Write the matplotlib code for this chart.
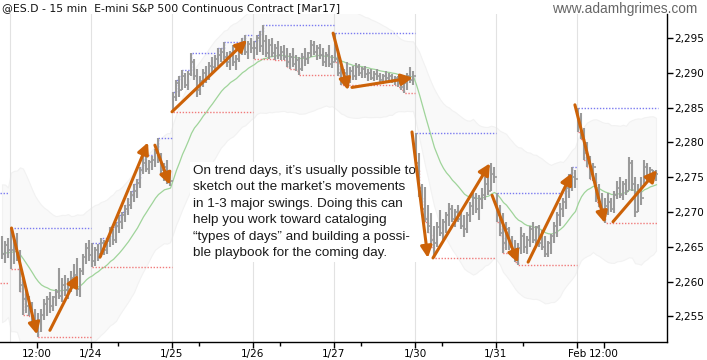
import numpy as np
import pandas as pd
import matplotlib
matplotlib.use("Agg")
import matplotlib.pyplot as plt
from matplotlib.ticker import FuncFormatter, FixedLocator

BAR = "#9a9a9a"; ARROW = "#cc6208"; MA = "#9fd49a"; HI = "#7b7bf0"; LO = "#f07b7b"; GRID = "#e2e2e2"

# sessions (27 fifteen-minute bars each), starting 1/23
day_labels = ["1/23", "1/24", "1/25", "1/26", "1/27", "1/30", "1/31", "Feb"]
BARS = 27

# tail of the 1/20 session
pre_high = [2266.5, 2265.8, 2266.2]
pre_low = [2263.2, 2262.6, 2263.4]
pre_close = [2264.0, 2265.2, 2264.6]
prev_sess_high = 2272.7
prev_sess_low = 2259.8

highs = [
    # 1/23
    [2267.7, 2266.5, 2267.0, 2264.5, 2260.5, 2259.0, 2258.0, 2257.0, 2256.0, 2255.5, 2256.0, 2257.5, 2258.0, 2258.5,
     2258.0, 2259.0, 2262.0, 2260.5, 2261.0, 2260.5, 2261.5, 2262.5, 2263.4, 2262.0, 2264.0, 2265.5, 2266.0],
    # 1/24
    [2265.5, 2265.0, 2265.4, 2266.3, 2266.0, 2266.2, 2267.8, 2267.5, 2268.5, 2269.5, 2270.0, 2271.0, 2272.0, 2273.0,
     2274.0, 2274.8, 2276.5, 2278.0, 2278.2, 2277.5, 2278.0, 2279.0, 2280.6, 2278.5, 2277.0, 2277.5, 2276.0],
    # 1/25
    [2287.2, 2289.0, 2289.5, 2290.4, 2290.0, 2290.2, 2292.8, 2292.0, 2290.5, 2289.5, 2290.5, 2291.0, 2291.5, 2292.2,
     2292.5, 2293.5, 2293.5, 2294.4, 2293.0, 2293.2, 2294.0, 2292.5, 2294.0, 2295.0, 2295.4, 2294.5, 2295.0],
    # 1/26
    [2294.5, 2295.5, 2296.0, 2296.9, 2295.5, 2294.8, 2295.0, 2294.2, 2294.5, 2293.8, 2294.0, 2293.5, 2292.8, 2293.5,
     2292.5, 2292.2, 2292.8, 2293.6, 2293.0, 2294.7, 2294.5, 2294.0, 2294.2, 2293.6, 2293.0, 2294.0, 2292.5],
    # 1/27
    [2295.7, 2293.0, 2291.0, 2290.5, 2291.5, 2290.8, 2291.0, 2291.4, 2291.2, 2290.8, 2291.0, 2290.5, 2290.6, 2290.2,
     2290.5, 2290.0, 2289.8, 2290.2, 2290.0, 2289.8, 2289.6, 2289.5, 2289.0, 2288.8, 2290.0, 2290.8, 2290.2],
    # 1/30
    [2281.3, 2278.5, 2274.0, 2273.6, 2271.0, 2269.9, 2268.0, 2268.5, 2270.3, 2269.0, 2270.0, 2271.3, 2271.0, 2270.5,
     2271.0, 2270.3, 2269.5, 2270.0, 2271.5, 2273.2, 2272.8, 2272.5, 2273.5, 2275.0, 2276.0, 2277.0, 2276.5],
    # 1/31
    [2272.7, 2271.0, 2269.9, 2268.5, 2267.8, 2266.5, 2266.0, 2265.5, 2267.8, 2267.0, 2266.5, 2268.0, 2268.6, 2268.0,
     2268.2, 2267.4, 2266.5, 2265.8, 2266.8, 2268.5, 2270.0, 2271.3, 2272.0, 2274.0, 2275.5, 2276.5, 2276.0],
    # 2/1
    [2285.0, 2284.2, 2282.0, 2280.0, 2278.0, 2277.0, 2275.6, 2274.0, 2272.7, 2272.0, 2272.7, 2272.0, 2273.0, 2274.5,
     2275.0, 2274.5, 2274.8, 2277.9, 2277.5, 2275.0, 2274.0, 2275.0, 2277.5, 2277.0, 2276.5, 2276.0, 2276.0],
]
lows = [
    [2261.8, 2262.5, 2263.0, 2258.5, 2255.2, 2255.5, 2255.0, 2254.2, 2253.0, 2252.0, 2252.8, 2254.5, 2255.0, 2255.5,
     2255.8, 2256.5, 2257.5, 2257.0, 2258.0, 2257.5, 2258.5, 2259.5, 2258.0, 2257.8, 2261.0, 2262.5, 2263.0],
    [2262.1, 2262.3, 2263.0, 2263.5, 2263.8, 2264.0, 2265.0, 2265.2, 2265.5, 2267.0, 2267.5, 2268.5, 2269.5, 2270.5,
     2271.5, 2272.0, 2273.5, 2275.5, 2275.8, 2275.5, 2276.0, 2276.5, 2277.0, 2275.5, 2274.5, 2274.0, 2273.8],
    [2284.4, 2286.0, 2286.5, 2287.5, 2287.8, 2287.5, 2289.5, 2289.0, 2286.5, 2286.8, 2288.0, 2288.5, 2289.0, 2290.0,
     2290.2, 2291.0, 2291.5, 2291.8, 2290.8, 2290.4, 2291.0, 2290.4, 2291.5, 2292.5, 2292.5, 2292.0, 2292.8],
    [2292.0, 2292.5, 2293.0, 2292.5, 2292.3, 2292.0, 2292.2, 2291.8, 2292.0, 2291.9, 2291.8, 2290.8, 2290.5, 2290.8,
     2290.2, 2289.7, 2290.2, 2291.0, 2291.2, 2292.2, 2292.5, 2291.8, 2292.0, 2291.0, 2290.8, 2290.8, 2290.7],
    [2291.5, 2289.5, 2288.3, 2288.3, 2288.5, 2288.5, 2289.0, 2289.0, 2289.5, 2289.2, 2289.3, 2288.8, 2289.0, 2288.8,
     2289.0, 2288.5, 2288.4, 2288.8, 2288.5, 2288.6, 2288.2, 2288.0, 2287.5, 2287.1, 2287.5, 2288.5, 2288.3],
    [2276.0, 2272.2, 2269.5, 2268.5, 2267.0, 2265.0, 2263.4, 2265.0, 2266.5, 2266.0, 2267.0, 2268.0, 2268.5, 2267.8,
     2268.5, 2267.5, 2266.4, 2267.0, 2268.5, 2269.5, 2269.8, 2268.8, 2270.5, 2271.7, 2272.5, 2273.0, 2274.2],
    [2268.5, 2266.5, 2264.1, 2264.5, 2264.5, 2263.5, 2262.8, 2262.4, 2264.0, 2264.1, 2264.0, 2265.0, 2265.5, 2265.2,
     2265.0, 2264.5, 2263.5, 2263.5, 2264.0, 2265.5, 2266.4, 2268.0, 2269.3, 2270.5, 2272.0, 2273.0, 2273.5],
    [2281.5, 2280.5, 2277.5, 2276.5, 2274.8, 2274.5, 2271.5, 2270.7, 2269.5, 2268.4, 2269.5, 2270.0, 2269.9, 2271.8,
     2272.0, 2271.7, 2272.5, 2273.2, 2273.0, 2269.3, 2270.0, 2271.0, 2274.0, 2274.2, 2274.5, 2274.3, 2274.5],
]
closes = [
    [2264.5, 2265.5, 2264.0, 2259.5, 2257.5, 2256.5, 2255.8, 2254.8, 2253.8, 2254.5, 2255.2, 2256.8, 2257.5, 2256.5,
     2257.8, 2258.5, 2258.0, 2259.5, 2258.8, 2259.8, 2260.5, 2261.0, 2259.0, 2261.5, 2263.5, 2264.8, 2263.8],
    [2263.0, 2264.5, 2264.0, 2265.5, 2264.5, 2265.8, 2267.2, 2266.0, 2268.0, 2268.5, 2269.5, 2270.5, 2271.0, 2272.5,
     2273.0, 2274.2, 2276.0, 2277.0, 2276.2, 2277.2, 2277.5, 2278.5, 2277.5, 2276.0, 2276.5, 2274.5, 2274.5],
    [2286.5, 2288.5, 2287.5, 2289.5, 2288.2, 2289.8, 2291.5, 2289.5, 2287.5, 2288.8, 2290.0, 2289.2, 2291.0, 2290.8,
     2292.0, 2292.5, 2293.0, 2292.2, 2291.5, 2292.8, 2291.5, 2292.0, 2293.5, 2294.0, 2293.0, 2294.2, 2293.5],
    [2293.5, 2295.0, 2293.8, 2294.5, 2292.8, 2294.0, 2292.8, 2293.5, 2292.5, 2293.0, 2292.2, 2291.5, 2292.2, 2291.2,
     2291.8, 2290.5, 2292.3, 2292.0, 2292.8, 2294.0, 2293.0, 2293.5, 2292.5, 2291.5, 2292.5, 2291.2, 2291.5],
    [2292.0, 2290.0, 2289.0, 2290.0, 2289.2, 2290.2, 2289.5, 2290.8, 2290.0, 2290.5, 2289.8, 2290.0, 2289.3, 2289.8,
     2289.5, 2289.0, 2289.5, 2289.2, 2289.6, 2289.0, 2289.3, 2288.5, 2288.0, 2288.5, 2289.5, 2289.0, 2289.5],
    [2277.0, 2273.5, 2270.5, 2269.0, 2268.0, 2266.0, 2265.5, 2267.8, 2267.0, 2268.5, 2269.5, 2270.5, 2269.0, 2270.0,
     2269.0, 2268.0, 2267.5, 2269.5, 2270.8, 2272.0, 2270.5, 2271.8, 2272.5, 2274.0, 2273.0, 2275.5, 2275.0],
    [2269.5, 2267.0, 2265.5, 2267.5, 2265.0, 2264.5, 2263.5, 2264.8, 2266.5, 2265.0, 2266.0, 2267.5, 2266.0, 2267.8,
     2265.5, 2265.0, 2264.0, 2265.5, 2266.5, 2268.0, 2269.5, 2270.5, 2271.5, 2273.5, 2274.5, 2275.0, 2274.8],
    [2282.5, 2281.0, 2278.5, 2277.0, 2275.5, 2276.5, 2272.0, 2271.5, 2270.5, 2270.8, 2271.5, 2270.5, 2272.5, 2273.5,
     2272.5, 2274.0, 2273.0, 2277.0, 2274.0, 2270.0, 2273.0, 2272.0, 2276.5, 2275.0, 2276.0, 2275.0, 2275.5],
]

# hand-drawn swing arrows: (bar0, price0, bar1, price1)
swings = [
    (0.0, 2267.7, 8.5, 2252.4), (12.8, 2253.0, 22.2, 2261.0),
    (29.5, 2263.5, 45.5, 2280.0), (47.8, 2279.6, 52.8, 2273.9),
    (53.5, 2284.4, 78.5, 2294.7),
    (107.2, 2295.7, 112.2, 2287.5), (113.5, 2287.9, 133.8, 2289.3),
    (133.5, 2281.5, 138.8, 2263.4), (140.5, 2263.4, 159.5, 2277.0),
    (160.2, 2272.4, 168.8, 2262.7), (172.2, 2262.8, 186.8, 2275.6),
    (187.8, 2285.4, 197.8, 2268.4), (200.5, 2268.6, 215.2, 2276.0),
]

note = ("On trend days, it\u2019s usually possible to\n"
        "sketch out the market\u2019s movements\n"
        "in 1-3 major swings. Doing this can\n"
        "help you work toward cataloging\n"
        "\u201ctypes of days\u201d and building a possi-\n"
        "ble playbook for the coming day.")

# ---- assemble series ----
hi = np.array(pre_high + sum(highs, []))
lo = np.array(pre_low + sum(lows, []))
cl = np.array(pre_close + sum(closes, []))
op = np.r_[cl[0], cl[:-1]]
x = np.arange(len(hi)) - len(pre_high)

ema = pd.Series(cl).ewm(span=20, adjust=False).mean().values
atr = pd.Series(hi - lo).rolling(20, min_periods=1).mean().values

fig = plt.figure(figsize=(7.07, 3.6), dpi=100)
ax = fig.add_axes([0, 18 / 360, 667 / 707, 328 / 360])

# keltner-style envelope, very faint
ax.fill_between(x, ema - 3 * atr, ema + 3 * atr, color="#f9f9f9", lw=0.8, edgecolor="#f2f2f2", zorder=0.5)

# session gridlines
starts = np.arange(len(day_labels)) * BARS - 0.5
for s in starts:
    ax.axvline(s, color=GRID, lw=0.8, zorder=1)

ax.plot(x, ema, color=MA, lw=0.9, zorder=2)

# prior session high / low
ax.hlines([prev_sess_high], -3.9, -1.2, color=HI, lw=1, linestyles=(0, (1, 1.2)), zorder=3)
ax.hlines([prev_sess_low], -3.9, -1.2, color=LO, lw=1, linestyles=(0, (1, 1.2)), zorder=3)

# running session high / low
for d in range(len(day_labels)):
    xs = np.arange(d * BARS, (d + 1) * BARS)
    h = np.array(highs[d]); l = np.array(lows[d])
    xe = np.r_[xs, xs[-1] + 0.5]
    ax.step(xe, np.r_[np.maximum.accumulate(h), h.max()], where="post", color=HI, lw=1,
            ls=(0, (1, 1.2)), zorder=3)
    ax.step(xe, np.r_[np.minimum.accumulate(l), l.min()], where="post", color=LO, lw=1,
            ls=(0, (1, 1.2)), zorder=3)

# OHLC bars
ax.vlines(x, lo, hi, color=BAR, lw=1.5, zorder=4)
ax.hlines(op, x - 0.5, x, color=BAR, lw=1.2, zorder=4)
ax.hlines(cl, x, x + 0.5, color=BAR, lw=1.2, zorder=4)

for x0, y0, x1, y1 in swings:
    ax.annotate("", xy=(x1, y1), xytext=(x0, y0),
                arrowprops=dict(arrowstyle="-|>", color=ARROW, lw=2.2, mutation_scale=17,
                                shrinkA=0, shrinkB=0), zorder=6)

ax.text(60.5, 2276.8, note, ha="left", va="top", fontsize=9.7, family="Liberation Sans",
        color="#1a1a1a", linespacing=1.5, zorder=3.5,
        bbox=dict(facecolor="white", edgecolor="none", pad=2))

ax.set_xlim(-3.83, 218.5)
ax.set_ylim(2251.32, 2298.45)

for sp in ("top", "left"):
    ax.spines[sp].set_visible(False)
for sp in ("right", "bottom"):
    ax.spines[sp].set_color("black"); ax.spines[sp].set_linewidth(1)

ax.yaxis.tick_right()
ax.set_yticks(np.arange(2255, 2296, 5))
ax.yaxis.set_major_formatter(FuncFormatter(lambda v, p: f"{v:,.0f}"))
ax.tick_params(axis="y", direction="out", length=4, width=1, labelsize=7.5, pad=1)

major = [8.5] + list(starts[1:]) + [starts[-1] + 9]
labels = ["12:00"] + day_labels[1:] + ["12:00"]
ax.xaxis.set_major_locator(FixedLocator(major))
ax.set_xticklabels(labels)
ax.xaxis.set_minor_locator(FixedLocator(list(starts[1:-1] + 9)))
ax.tick_params(axis="x", which="major", direction="out", length=4, width=1, labelsize=7.5, pad=1)
ax.tick_params(axis="x", which="minor", direction="out", length=3, width=1)

fig.text(2 / 707, 1 - 8 / 360, "@ES.D - 15 min  E-mini S&P 500 Continuous Contract [Mar17]",
         ha="left", va="center", fontsize=7.8, color="#111")
fig.text(697 / 707, 1 - 9 / 360, "www.adamhgrimes.com", ha="right", va="center",
         fontsize=9.8, family="Liberation Sans", color="#666")

fig.savefig("out.png", dpi=100, facecolor="white")
